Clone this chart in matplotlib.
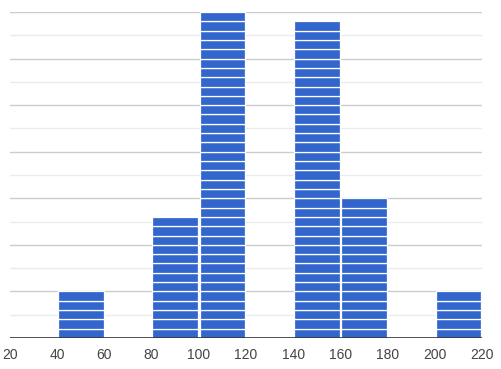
import numpy as np
import matplotlib.pyplot as plt

# histogram bins (left edges) and number of items in each bin
bin_edges = [20, 40, 60, 80, 100, 120, 140, 160, 180, 200, 220]
counts = [0, 5, 0, 13, 35, 0, 34, 15, 0, 5]
x_ticks = [20, 40, 60, 80, 100, 120, 140, 160, 180, 200, 220]

bar_color = '#3366cc'

fig = plt.figure(figsize=(5.02, 3.69), dpi=100)
ax = fig.add_axes([0.0199, 0.084, 0.9403, 0.8835])

# each item is its own small block, stacked like a Google Charts histogram
lefts = np.array(bin_edges[:-1])
widths = np.diff(bin_edges)
for left, w, n in zip(lefts, widths, counts):
    for k in range(n):
        ax.bar(left + 0.35, 1, width=w - 0.7, bottom=k, align='edge',
               color=bar_color, edgecolor='white', linewidth=0.9, zorder=3)

# gridlines: major every 5, minor halfway between
for y in np.arange(5, 36, 5):
    ax.axhline(y, color='#cccccc', linewidth=1, zorder=1)
for y in np.arange(2.5, 35, 5):
    ax.axhline(y, color='#ebebeb', linewidth=1, zorder=1)
ax.axhline(0, color='#333333', linewidth=1.2, zorder=4)

ax.set_xlim(20, 220)
ax.set_ylim(0, 35)
ax.set_xticks(x_ticks)
ax.set_xticklabels([str(t) for t in x_ticks], color='#444444', fontsize=10,
                   family='Liberation Sans')
ax.tick_params(axis='x', length=0, pad=7.5)
ax.set_yticks([])
for s in ax.spines.values():
    s.set_visible(False)

fig.savefig('out.png', dpi=100)
